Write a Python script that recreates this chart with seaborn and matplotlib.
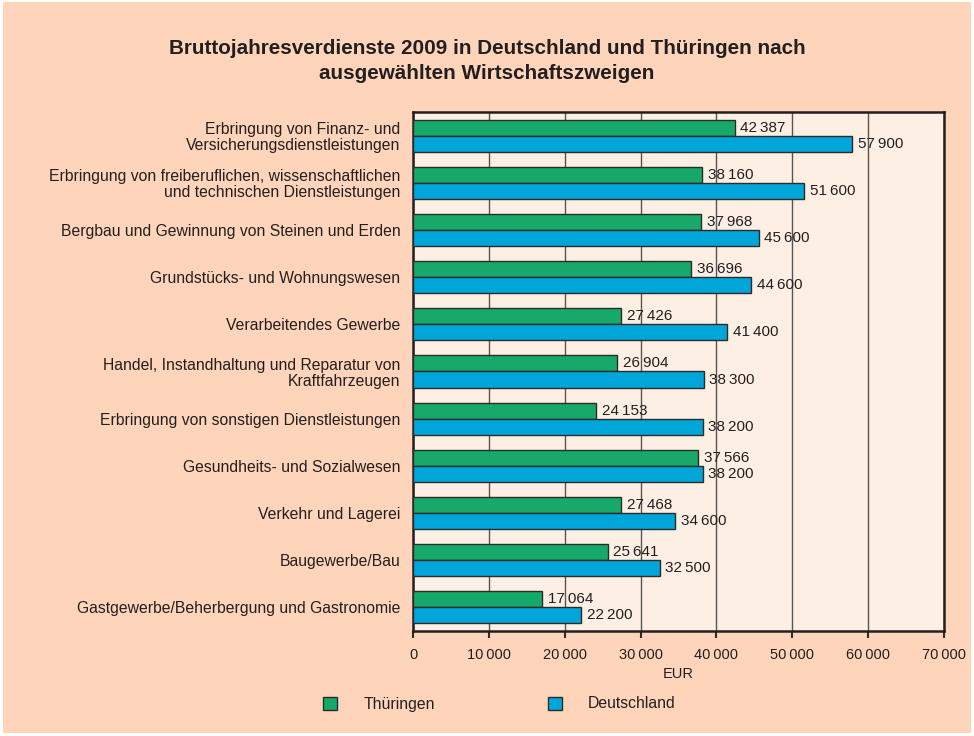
import matplotlib
matplotlib.use("Agg")
import matplotlib.pyplot as plt
from matplotlib.patches import Rectangle
import pandas as pd
import seaborn as sns

categories = [
    "Erbringung von Finanz- und\nVersicherungsdienstleistungen",
    "Erbringung von freiberuflichen, wissenschaftlichen\nund technischen Dienstleistungen",
    "Bergbau und Gewinnung von Steinen und Erden",
    "Grundstücks- und Wohnungswesen",
    "Verarbeitendes Gewerbe",
    "Handel, Instandhaltung und Reparatur von\nKraftfahrzeugen",
    "Erbringung von sonstigen Dienstleistungen",
    "Gesundheits- und Sozialwesen",
    "Verkehr und Lagerei",
    "Baugewerbe/Bau",
    "Gastgewerbe/Beherbergung und Gastronomie",
]
thueringen = [42387, 38160, 37968, 36696, 27426, 26904, 24153, 37566, 27468, 25641, 17064]
deutschland = [57900, 51600, 45600, 44600, 41400, 38300, 38200, 38200, 34600, 32500, 22200]
series = ["Thüringen", "Deutschland"]
x_ticks = [0, 10000, 20000, 30000, 40000, 50000, 60000, 70000]

df = pd.DataFrame({
    "Wirtschaftszweig": categories * 2,
    "Region": [series[0]] * len(categories) + [series[1]] * len(categories),
    "EUR": thueringen + deutschland,
})

peach = "#FED5BA"
plot_bg = "#FEEFE4"
green = "#17A96A"
blue = "#00A6DA"
text_col = "#231F20"

sns.set_theme(style="white")
plt.rcParams["font.family"] = ["Liberation Sans", "DejaVu Sans"]

fig = plt.figure(figsize=(9.74, 7.36), dpi=100, facecolor="white")
# peach panel with a thin white margin
fig.patches.append(Rectangle((3 / 974, 3 / 736), 968 / 974, 731 / 736,
                             transform=fig.transFigure, facecolor=peach,
                             edgecolor="none", zorder=-10))

ax = fig.add_axes([413 / 974, 1 - 631 / 736, 531 / 974, 519 / 736])
ax.set_facecolor(plot_bg)

sns.barplot(data=df, y="Wirtschaftszweig", x="EUR", hue="Region",
            hue_order=series, palette=[green, blue], orient="h",
            width=0.68, dodge=True, edgecolor="#2b2b2b", linewidth=1.0,
            saturation=1, ax=ax, zorder=3)

def fmt(v):
    return f"{v:,}".replace(",", "\u2009")

for cont in ax.containers:
    labels = [fmt(int(round(b.get_width()))) for b in cont]
    ax.bar_label(cont, labels=labels, padding=4, fontsize=11, color=text_col)

ax.set_xlim(0, 70000)
ax.set_xticks(x_ticks)
ax.set_xticklabels([fmt(t) for t in x_ticks], fontsize=10.5, color=text_col)
ax.set_xlabel("EUR", fontsize=10.5, color=text_col, labelpad=4)
ax.set_ylabel("")
ax.tick_params(axis="y", labelsize=11.3, labelcolor=text_col, length=0, pad=9)
ax.tick_params(axis="x", direction="out", length=5, width=1.5, color="#2b2b2b", pad=7,
               bottom=True)
for lbl in ax.get_yticklabels():
    lbl.set_horizontalalignment("right")
    lbl.set_multialignment("right")
    lbl.set_linespacing(1.1)

ax.grid(axis="x", color="#555555", linewidth=1.0, zorder=0)
ax.set_axisbelow(True)
for sp in ax.spines.values():
    sp.set_color("#231F20")
    sp.set_linewidth(1.8)

handles, labs = ax.get_legend_handles_labels()
ax.get_legend().remove()
fig.legend(handles, labs, loc="center left", bbox_to_anchor=(309 / 974, 1 - 704 / 736),
           ncol=2, frameon=False, fontsize=11.3, handlelength=0.9, handleheight=0.9,
           handletextpad=1.65, columnspacing=7.2, labelcolor=text_col)

fig.text(0.5, 1 - 61 / 736,
         "Bruttojahresverdienste 2009 in Deutschland und Thüringen nach\nausgewählten Wirtschaftszweigen",
         ha="center", va="center", fontsize=14.9, fontweight="bold",
         color=text_col, linespacing=1.45)

fig.savefig("out.png", dpi=100, facecolor="white")
